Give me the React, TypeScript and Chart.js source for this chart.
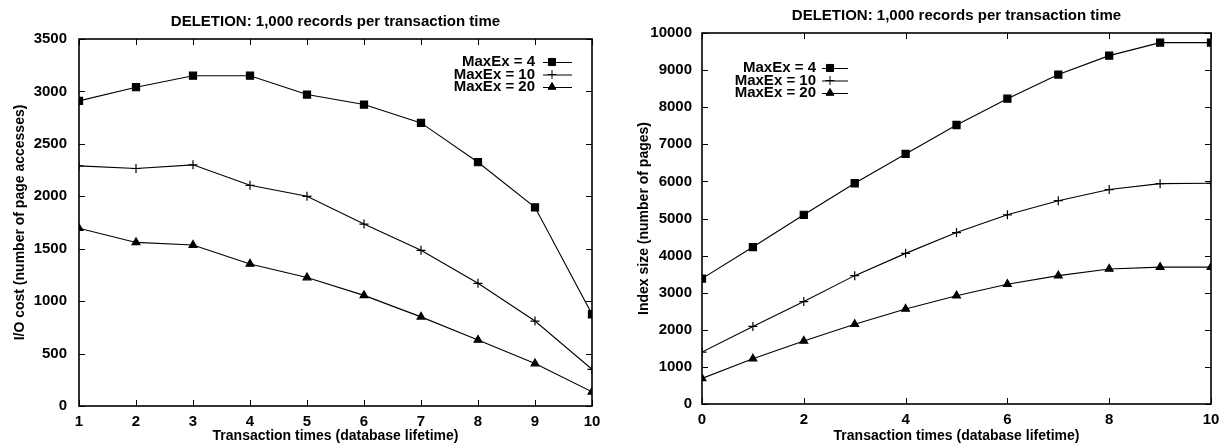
import React, { useEffect, useRef } from "react";
import { Chart, registerables } from "chart.js";
import { drawPoint } from "chart.js/helpers";

Chart.register(...registerables);

const FONT = "'Liberation Sans', Arial, Helvetica, sans-serif";

const chartTitle = "DELETION: 1,000 records per transaction time";
const seriesLabels = ["MaxEx = 4", "MaxEx = 10", "MaxEx = 20"];
const xAxisTitle = "Transaction times (database lifetime)";

// Left chart: I/O cost
const ioTimes = [1, 2, 3, 4, 5, 6, 7, 8, 9, 10];
const ioMaxEx4 = [2910, 3040, 3150, 3150, 2970, 2875, 2700, 2325, 1895, 875];
const ioMaxEx10 = [2290, 2265, 2300, 2105, 2000, 1735, 1485, 1170, 810, 350];
const ioMaxEx20 = [1695, 1560, 1535, 1355, 1225, 1055, 850, 630, 405, 135];
const ioYTitle = "I/O cost (number of page accesses)";

// Right chart: index size
const sizeTimes = [0, 1, 2, 3, 4, 5, 6, 7, 8, 9, 10];
const sizeMaxEx4 = [3380, 4230, 5100, 5950, 6740, 7520, 8230, 8880, 9390, 9740, 9740];
const sizeMaxEx10 = [1400, 2090, 2760, 3460, 4060, 4620, 5100, 5480, 5780, 5940, 5950];
const sizeMaxEx20 = [690, 1220, 1700, 2150, 2560, 2920, 3230, 3460, 3640, 3690, 3690];
const sizeYTitle = "Index size (number of pages)";

const pointStyles = ["rect", "cross", "triangle"];
const pointRadii = [5, 4.5, 4.5];

type Layout = {
  width: number;
  area: { left: number; right: number; top: number; bottom: number };
  yLabelPad: number;
  yTitlePad: number;
  titleY: number;
  legend: { textRight: number; y0: number; step: number; s0: number; s1: number; mk: number };
};

const decorPlugin = {
  id: "decor",
  afterDraw(chart: any, _args: any, opts: any) {
    const { ctx, chartArea, scales } = chart;
    const { left, right, top, bottom } = chartArea;
    const xs = scales.x;
    const ys = scales.y;
    ctx.save();
    ctx.strokeStyle = "#000";
    ctx.fillStyle = "#000";
    ctx.lineWidth = 1.6;
    ctx.strokeRect(left, top, right - left, bottom - top);
    ctx.lineWidth = 1;
    const tl = 6;
    ctx.beginPath();
    xs.ticks.forEach((t: any) => {
      const px = Math.round(xs.getPixelForValue(t.value)) + 0.5;
      ctx.moveTo(px, bottom);
      ctx.lineTo(px, bottom - tl);
      ctx.moveTo(px, top);
      ctx.lineTo(px, top + tl);
    });
    ys.ticks.forEach((t: any) => {
      const py = Math.round(ys.getPixelForValue(t.value)) + 0.5;
      ctx.moveTo(left, py);
      ctx.lineTo(left + tl, py);
      ctx.moveTo(right, py);
      ctx.lineTo(right - tl, py);
    });
    ctx.stroke();

    // title
    ctx.font = `bold 15px ${FONT}`;
    ctx.textAlign = "center";
    ctx.textBaseline = "middle";
    ctx.fillText(opts.title, (left + right) / 2, opts.titleY);

    // legend
    const lg = opts.legend;
    ctx.font = `bold 15px ${FONT}`;
    ctx.textAlign = "right";
    chart.data.datasets.forEach((ds: any, i: number) => {
      const yy = lg.y0 + i * lg.step;
      ctx.fillStyle = "#000";
      ctx.fillText(ds.label, lg.textRight, yy);
      ctx.beginPath();
      ctx.lineWidth = 1;
      ctx.moveTo(lg.s0, yy + 0.5);
      ctx.lineTo(lg.s1, yy + 0.5);
      ctx.stroke();
      drawPoint(
        ctx,
        { pointStyle: ds.pointStyle, radius: ds.pointRadius, borderWidth: 1.2, rotation: 0 } as any,
        lg.mk,
        yy
      );
      ctx.fillStyle = "#000";
      ctx.fill();
    });
    ctx.restore();
  },
};

function makeDatasets(xsArr: number[], ys: number[][]) {
  return ys.map((arr, i) => ({
    label: seriesLabels[i],
    data: arr.map((v, j) => ({ x: xsArr[j], y: v })),
    borderColor: "#000",
    backgroundColor: "#000",
    borderWidth: 1.1,
    pointStyle: pointStyles[i],
    pointRadius: pointRadii[i],
    pointBorderWidth: 1.2,
    pointBackgroundColor: "#000",
    pointBorderColor: "#000",
    tension: 0,
  }));
}

function LineChart(props: {
  xsArr: number[];
  ys: number[][];
  xMin: number;
  xMax: number;
  xStep: number;
  yMax: number;
  yStep: number;
  yTitle: string;
  layout: Layout;
}) {
  const ref = useRef<HTMLCanvasElement>(null);
  const L = props.layout;
  useEffect(() => {
    const tickFont = { family: FONT, size: 15, weight: "bold" as const };
    const titleFont = { family: FONT, size: 14, weight: "bold" as const };
    const plain = (v: any) => String(v);
    const chart = new Chart(ref.current!, {
      type: "line",
      data: { datasets: makeDatasets(props.xsArr, props.ys) as any },
      plugins: [decorPlugin],
      options: {
        animation: false,
        responsive: false,
        maintainAspectRatio: false,
        layout: {
          padding: { left: 0, top: L.area.top, right: L.width - L.area.right, bottom: 0 },
        },
        plugins: {
          legend: { display: false },
          title: { display: false },
          tooltip: { enabled: false },
          decor: { title: chartTitle, titleY: L.titleY, legend: L.legend },
        } as any,
        scales: {
          x: {
            type: "linear",
            min: props.xMin,
            max: props.xMax,
            grid: { display: false, drawTicks: false },
            border: { display: false },
            ticks: {
              stepSize: props.xStep,
              color: "#000",
              font: tickFont,
              padding: 7,
              maxRotation: 0,
              autoSkip: false,
              callback: plain,
            },
            title: {
              display: true,
              text: xAxisTitle,
              color: "#000",
              font: titleFont,
              padding: { top: 0, bottom: 1 },
            },
            afterFit: (s: any) => {
              s.height = 446 - L.area.bottom;
              s.paddingLeft = 0;
              s.paddingRight = 0;
            },
          },
          y: {
            type: "linear",
            min: 0,
            max: props.yMax,
            grid: { display: false, drawTicks: false },
            border: { display: false },
            ticks: {
              stepSize: props.yStep,
              color: "#000",
              font: tickFont,
              padding: L.yLabelPad,
              callback: plain,
            },
            title: {
              display: true,
              text: props.yTitle,
              color: "#000",
              font: titleFont,
              padding: { top: L.yTitlePad, bottom: 0 },
            },
            afterFit: (s: any) => {
              s.width = L.area.left;
              s.paddingTop = 0;
              s.paddingBottom = 0;
            },
          },
        },
      } as any,
    });
    return () => chart.destroy();
  }, []);
  return <canvas ref={ref} width={L.width} height={446} style={{ display: "block", width: L.width, height: 446 }} />;
}

const leftLayout: Layout = {
  width: 620,
  area: { left: 79, right: 592, top: 39, bottom: 406 },
  yLabelPad: 12,
  yTitlePad: 12,
  titleY: 22,
  legend: { textRight: 535, y0: 62, step: 12.5, s0: 543, s1: 572, mk: 552 },
};

const rightLayout: Layout = {
  width: 606,
  area: { left: 82, right: 591, top: 33, bottom: 404 },
  yLabelPad: 10,
  yTitlePad: 16,
  titleY: 16,
  legend: { textRight: 196, y0: 68, step: 12.5, s0: 202, s1: 228, mk: 210 },
};

export default function App() {
  return (
    <div style={{ position: "fixed", left: 0, top: 0, width: 1226, height: 446, display: "flex", background: "#fff" }}>
      <LineChart
        xsArr={ioTimes}
        ys={[ioMaxEx4, ioMaxEx10, ioMaxEx20]}
        xMin={1}
        xMax={10}
        xStep={1}
        yMax={3500}
        yStep={500}
        yTitle={ioYTitle}
        layout={leftLayout}
      />
      <LineChart
        xsArr={sizeTimes}
        ys={[sizeMaxEx4, sizeMaxEx10, sizeMaxEx20]}
        xMin={0}
        xMax={10}
        xStep={2}
        yMax={10000}
        yStep={1000}
        yTitle={sizeYTitle}
        layout={rightLayout}
      />
    </div>
  );
}
